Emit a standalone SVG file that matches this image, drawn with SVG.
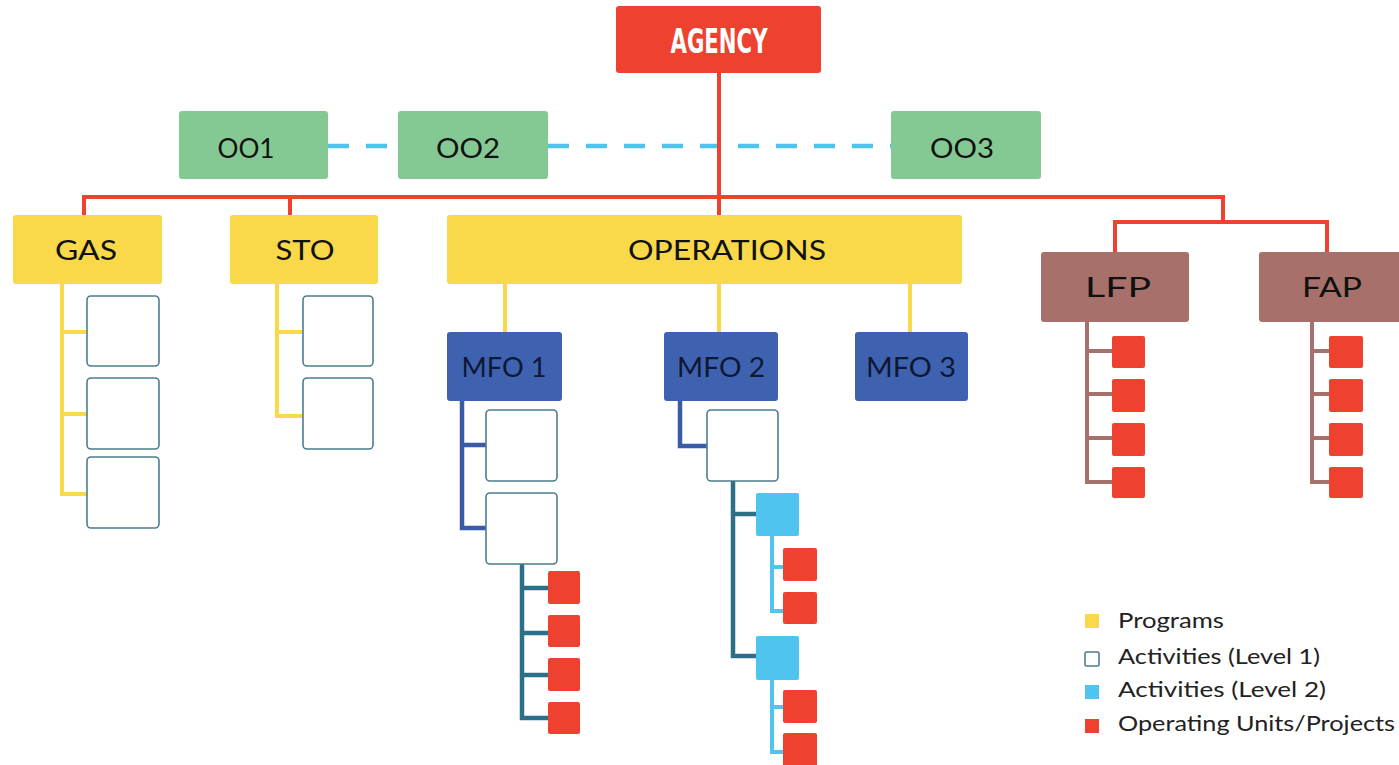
<svg xmlns="http://www.w3.org/2000/svg" width="1399" height="765" viewBox="0 0 1399 765">
<style>
.lbl{font-family:Lato,"Open Sans","Liberation Sans",sans-serif;font-size:27px;fill:#111;text-anchor:middle}
.mfo{fill:#0e1833}
.leg{font-family:Lato,"Open Sans","Liberation Sans",sans-serif;font-size:21px;fill:#222}
.red{fill:#ee4130}
.ok{fill:#84c994}
.prog{fill:#f9d84a}
.mfob{fill:#3e62b0}
.lf{fill:#a8706b}
.a1{fill:#fff;stroke:#4c7d8e;stroke-width:1.6}
.a2{fill:#4ec4ef}
.ou{fill:#ee4130}
.cr{stroke:#ee4130;stroke-width:4;fill:none}
.cy{stroke:#f9d84a;stroke-width:4;fill:none}
.cb{stroke:#3a5ca8;stroke-width:4.5;fill:none}
.ct{stroke:#2c6f89;stroke-width:4.5;fill:none}
.cl{stroke:#4ec4ef;stroke-width:4;fill:none}
.cn{stroke:#a8706b;stroke-width:4;fill:none}
.cd{stroke:#4ec4ef;stroke-width:4.5;fill:none;stroke-dasharray:21 17}
</style>
<rect width="1399" height="765" fill="#fff"/>
<g id="connectors">
<path class="cd" d="M328 146H398"/>
<path class="cd" d="M548 146H891"/>
<path class="cr" d="M719 73V215"/>
<path class="cr" d="M84 215V197H1223V222"/>
<path class="cr" d="M290 197V215"/>
<path class="cr" d="M1115 252V222H1327V252"/>
<path class="cy" d="M62 284V494H87M62 332H87M62 414H87"/>
<path class="cy" d="M277 284V416H303M277 332H303"/>
<path class="cy" d="M505 284V332M719 284V332M910 284V332"/>
<path class="cb" d="M462 401V528H486M462 445H486"/>
<path class="cb" d="M680 401V446H707"/>
<path class="ct" d="M522 564V718H548M522 588H548M522 633H548M522 675H548"/>
<path class="ct" d="M733 481V656H756M733 514H756"/>
<path class="cl" d="M772 536V611H783M772 567H783"/>
<path class="cl" d="M772 680V752H783M772 707H783"/>
<path class="cn" d="M1087 322V482H1112M1087 351H1112M1087 394H1112M1087 438H1112"/>
<path class="cn" d="M1312 322V482H1329M1312 351H1329M1312 394H1329M1312 438H1329"/>
</g>
<g id="agency"><rect class="red" x="616" y="6" width="205" height="67" rx="3"/><text x="719" y="53" font-family="'DejaVu Sans',sans-serif" font-weight="bold" font-stretch="condensed" font-size="34" fill="#fff" text-anchor="middle" textLength="97" lengthAdjust="spacingAndGlyphs">AGENCY</text></g>
<g id="oo1"><rect class="ok" x="179" y="111" width="149" height="68" rx="3"/><text class="lbl" x="246" y="158" textLength="57" lengthAdjust="spacingAndGlyphs">OO1</text></g>
<g id="oo2"><rect class="ok" x="398" y="111" width="150" height="68" rx="3"/><text class="lbl" x="468" y="158" textLength="64" lengthAdjust="spacingAndGlyphs">OO2</text></g>
<g id="oo3"><rect class="ok" x="891" y="111" width="150" height="68" rx="3"/><text class="lbl" x="962" y="158" textLength="64" lengthAdjust="spacingAndGlyphs">OO3</text></g>
<g id="gas"><rect class="prog" x="13" y="215" width="149" height="69" rx="3"/><text class="lbl" x="86" y="260" textLength="62" lengthAdjust="spacingAndGlyphs">GAS</text></g>
<g id="sto"><rect class="prog" x="230" y="215" width="148" height="69" rx="3"/><text class="lbl" x="305" y="260" textLength="59" lengthAdjust="spacingAndGlyphs">STO</text></g>
<g id="operations"><rect class="prog" x="447" y="215" width="515" height="69" rx="3"/><text class="lbl" x="727" y="260" textLength="198" lengthAdjust="spacingAndGlyphs">OPERATIONS</text></g>
<g id="lfp"><rect class="lf" x="1041" y="252" width="148" height="70" rx="3"/><text class="lbl" x="1118" y="297" textLength="66" lengthAdjust="spacingAndGlyphs">LFP</text></g>
<g id="fap"><rect class="lf" x="1259" y="252" width="148" height="70" rx="3"/><text class="lbl" x="1332" y="297" textLength="60" lengthAdjust="spacingAndGlyphs">FAP</text></g>
<g id="mfo1"><rect class="mfob" x="447" y="332" width="115" height="69" rx="3"/><text class="lbl mfo" x="504" y="377" textLength="85" lengthAdjust="spacingAndGlyphs">MFO 1</text></g>
<g id="mfo2"><rect class="mfob" x="664" y="332" width="114" height="69" rx="3"/><text class="lbl mfo" x="721" y="377" textLength="88" lengthAdjust="spacingAndGlyphs">MFO 2</text></g>
<g id="mfo3"><rect class="mfob" x="855" y="332" width="113" height="69" rx="3"/><text class="lbl mfo" x="911" y="377" textLength="90" lengthAdjust="spacingAndGlyphs">MFO 3</text></g>
<g id="gas-activities"><rect class="a1" x="87" y="296" width="72" height="70" rx="4"/><rect class="a1" x="87" y="378" width="72" height="71" rx="4"/><rect class="a1" x="87" y="457" width="72" height="71" rx="4"/></g>
<g id="sto-activities"><rect class="a1" x="303" y="296" width="70" height="70" rx="4"/><rect class="a1" x="303" y="378" width="70" height="71" rx="4"/></g>
<g id="mfo1-activities"><rect class="a1" x="486" y="410" width="71" height="71" rx="4"/><rect class="a1" x="486" y="493" width="71" height="71" rx="4"/></g>
<g id="mfo1-units"><rect class="ou" x="548" y="571" width="32" height="33" rx="2"/><rect class="ou" x="548" y="615" width="32" height="32" rx="2"/><rect class="ou" x="548" y="658" width="32" height="33" rx="2"/><rect class="ou" x="548" y="702" width="32" height="32" rx="2"/></g>
<g id="mfo2-activity"><rect class="a1" x="707" y="410" width="71" height="71" rx="4"/></g>
<g id="mfo2-level2"><rect class="a2" x="756" y="493" width="43" height="43" rx="2"/><rect class="a2" x="756" y="636" width="43" height="44" rx="2"/></g>
<g id="mfo2-units"><rect class="ou" x="783" y="548" width="34" height="33" rx="2"/><rect class="ou" x="783" y="592" width="34" height="32" rx="2"/><rect class="ou" x="783" y="690" width="34" height="33" rx="2"/><rect class="ou" x="783" y="733" width="34" height="34" rx="2"/></g>
<g id="lfp-units"><rect class="ou" x="1112" y="336" width="33" height="32" rx="2"/><rect class="ou" x="1112" y="379" width="33" height="33" rx="2"/><rect class="ou" x="1112" y="423" width="33" height="33" rx="2"/><rect class="ou" x="1112" y="467" width="33" height="31" rx="2"/></g>
<g id="fap-units"><rect class="ou" x="1329" y="336" width="34" height="32" rx="2"/><rect class="ou" x="1329" y="379" width="34" height="33" rx="2"/><rect class="ou" x="1329" y="423" width="34" height="33" rx="2"/><rect class="ou" x="1329" y="467" width="34" height="31" rx="2"/></g>
<g id="legend">
<rect class="prog" x="1085" y="614" width="14" height="14"/><text class="leg" x="1118" y="628" textLength="106" lengthAdjust="spacingAndGlyphs">Programs</text>
<rect class="a1" x="1085" y="652" width="14" height="14" rx="1.5"/><text class="leg" x="1118" y="664" textLength="202" lengthAdjust="spacingAndGlyphs">Activities (Level 1)</text>
<rect class="a2" x="1085" y="685" width="14" height="14"/><text class="leg" x="1118" y="697" textLength="208" lengthAdjust="spacingAndGlyphs">Activities (Level 2)</text>
<rect class="ou" x="1085" y="719" width="14" height="14"/><text class="leg" x="1118" y="731" textLength="277" lengthAdjust="spacingAndGlyphs">Operating Units/Projects</text>
</g>
</svg>
